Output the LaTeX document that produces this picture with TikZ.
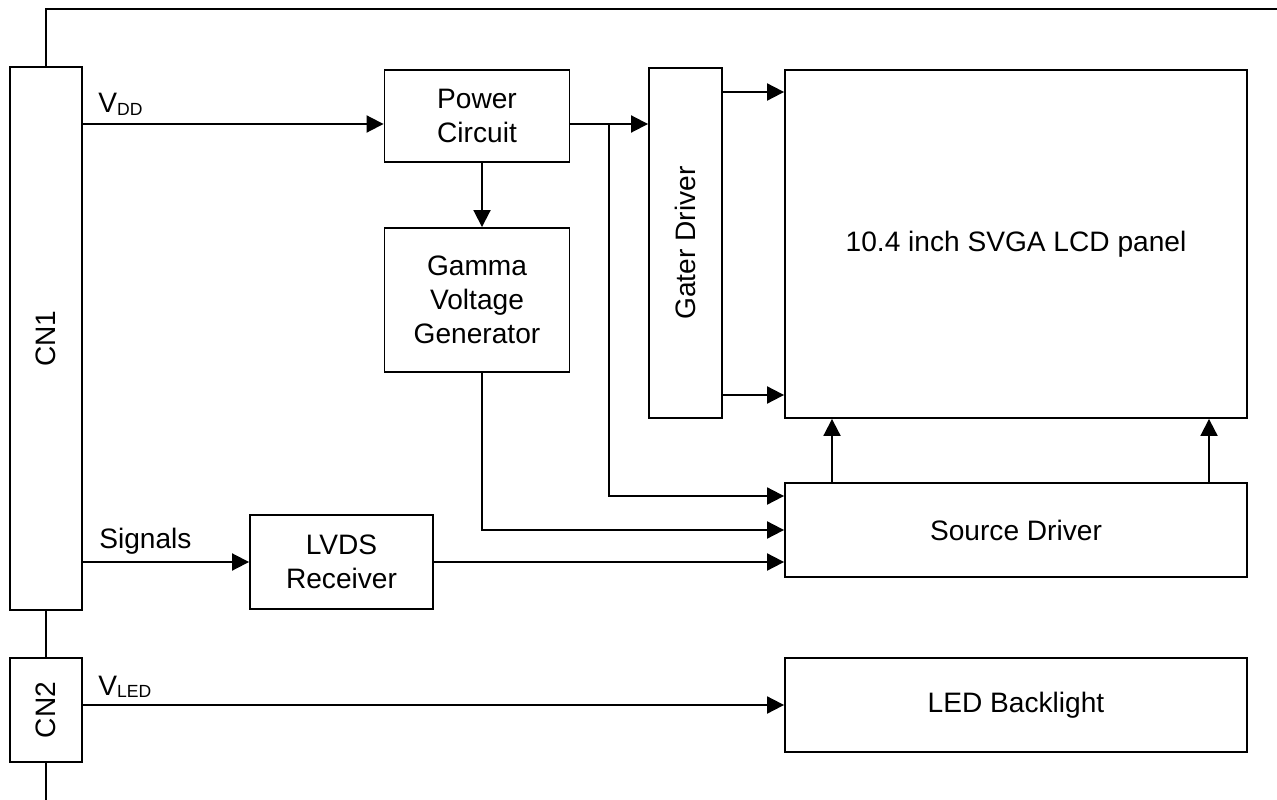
\documentclass[tikz,border=0pt]{standalone}
\usepackage{graphicx}
\usepackage{fontspec}
\setmainfont{Liberation Sans}
\usetikzlibrary{arrows.meta}
\newcommand{\sub}[1]{\raisebox{-1.5pt}{\fontsize{10}{12}\selectfont #1}}

\begin{document}
\begin{tikzpicture}[x=0.02cm, y=-0.02cm,
    blk/.style={rectangle, draw, line width=1.1pt, align=center, inner sep=0pt,
                font=\fontsize{16}{19.4}\selectfont},
    lbl/.style={anchor=base west, inner sep=0pt, font=\fontsize{16}{19.4}\selectfont},
    wire/.style={line width=1.1pt},
    arr/.style={-{Triangle[length=3.4mm, width=3.4mm]}, line width=1.1pt}
]
    \useasboundingbox (0,0) rectangle (1277,800);

    % connectors and blocks
    \node[blk, minimum width=1.44cm, minimum height=10.86cm] (cn1) at (46,338.5) {\rotatebox{90}{CN1}};
    \node[blk, minimum width=1.44cm, minimum height=2.08cm] (cn2) at (46,710) {\rotatebox{90}{CN2}};
    \node[blk, minimum width=3.7cm, minimum height=1.84cm] (power) at (477,116) {Power\\Circuit};
    \node[blk, minimum width=3.7cm, minimum height=2.88cm] (gamma) at (477,300) {Gamma\\Voltage\\Generator};
    \node[blk, minimum width=1.46cm, minimum height=7cm] (gate) at (685.5,243) {\rotatebox{90}{Gater Driver}};
    \node[blk, minimum width=9.24cm, minimum height=6.96cm] (panel) at (1016,244) {10.4 inch SVGA LCD panel};
    \node[blk, minimum width=9.24cm, minimum height=1.88cm] (source) at (1016,530) {Source Driver};
    \node[blk, minimum width=3.66cm, minimum height=1.88cm] (lvds) at (341.5,562) {LVDS\\Receiver};
    \node[blk, minimum width=9.24cm, minimum height=1.88cm] (led) at (1016,705) {LED Backlight};

    % signal labels
    \node[lbl] (vddlbl) at (98,113) {V\sub{DD}};
    \node[lbl] (siglbl) at (99,548) {Signals};
    \node[lbl] (vledlbl) at (98,695) {V\sub{LED}};

    % helper coordinates
    \coordinate (topend) at (1277,9);
    \coordinate (botend) at (46,800);
    \coordinate (vdd) at (0,124);
    \coordinate (split) at (609,124);
    \coordinate (g1) at (0,92);
    \coordinate (g2) at (0,395);
    \coordinate (s1) at (832,0);
    \coordinate (s2) at (1209,0);

    \draw[wire] (cn1.north) |- (topend);
    \draw[wire] (cn1.south) -- (cn2.north);
    \draw[wire] (cn2.south) -- (botend);

    \draw[arr] (cn1.east |- vdd) -- (power.west |- vdd);
    \draw[arr] (power.east |- vdd) -- (gate.west |- vdd);
    \draw[arr] ([xshift=0.1cm]power.south) -- ([xshift=0.1cm]gamma.north);
    \draw[arr] (split) |- ([yshift=0.68cm]source.west);
    \draw[arr] ([xshift=0.1cm]gamma.south) |- (source.west);
    \draw[arr] (cn1.east |- lvds.west) -- (lvds.west);
    \draw[arr] (lvds.east) -- (source.west |- lvds.east);
    \draw[arr] (cn2.east |- led.west) -- (led.west);
    \foreach \c in {g1,g2}
        \draw[arr] (gate.east |- \c) -- (panel.west |- \c);
    \foreach \c in {s1,s2}
        \draw[arr] (source.north -| \c) -- (panel.south -| \c);
\end{tikzpicture}
\end{document}
